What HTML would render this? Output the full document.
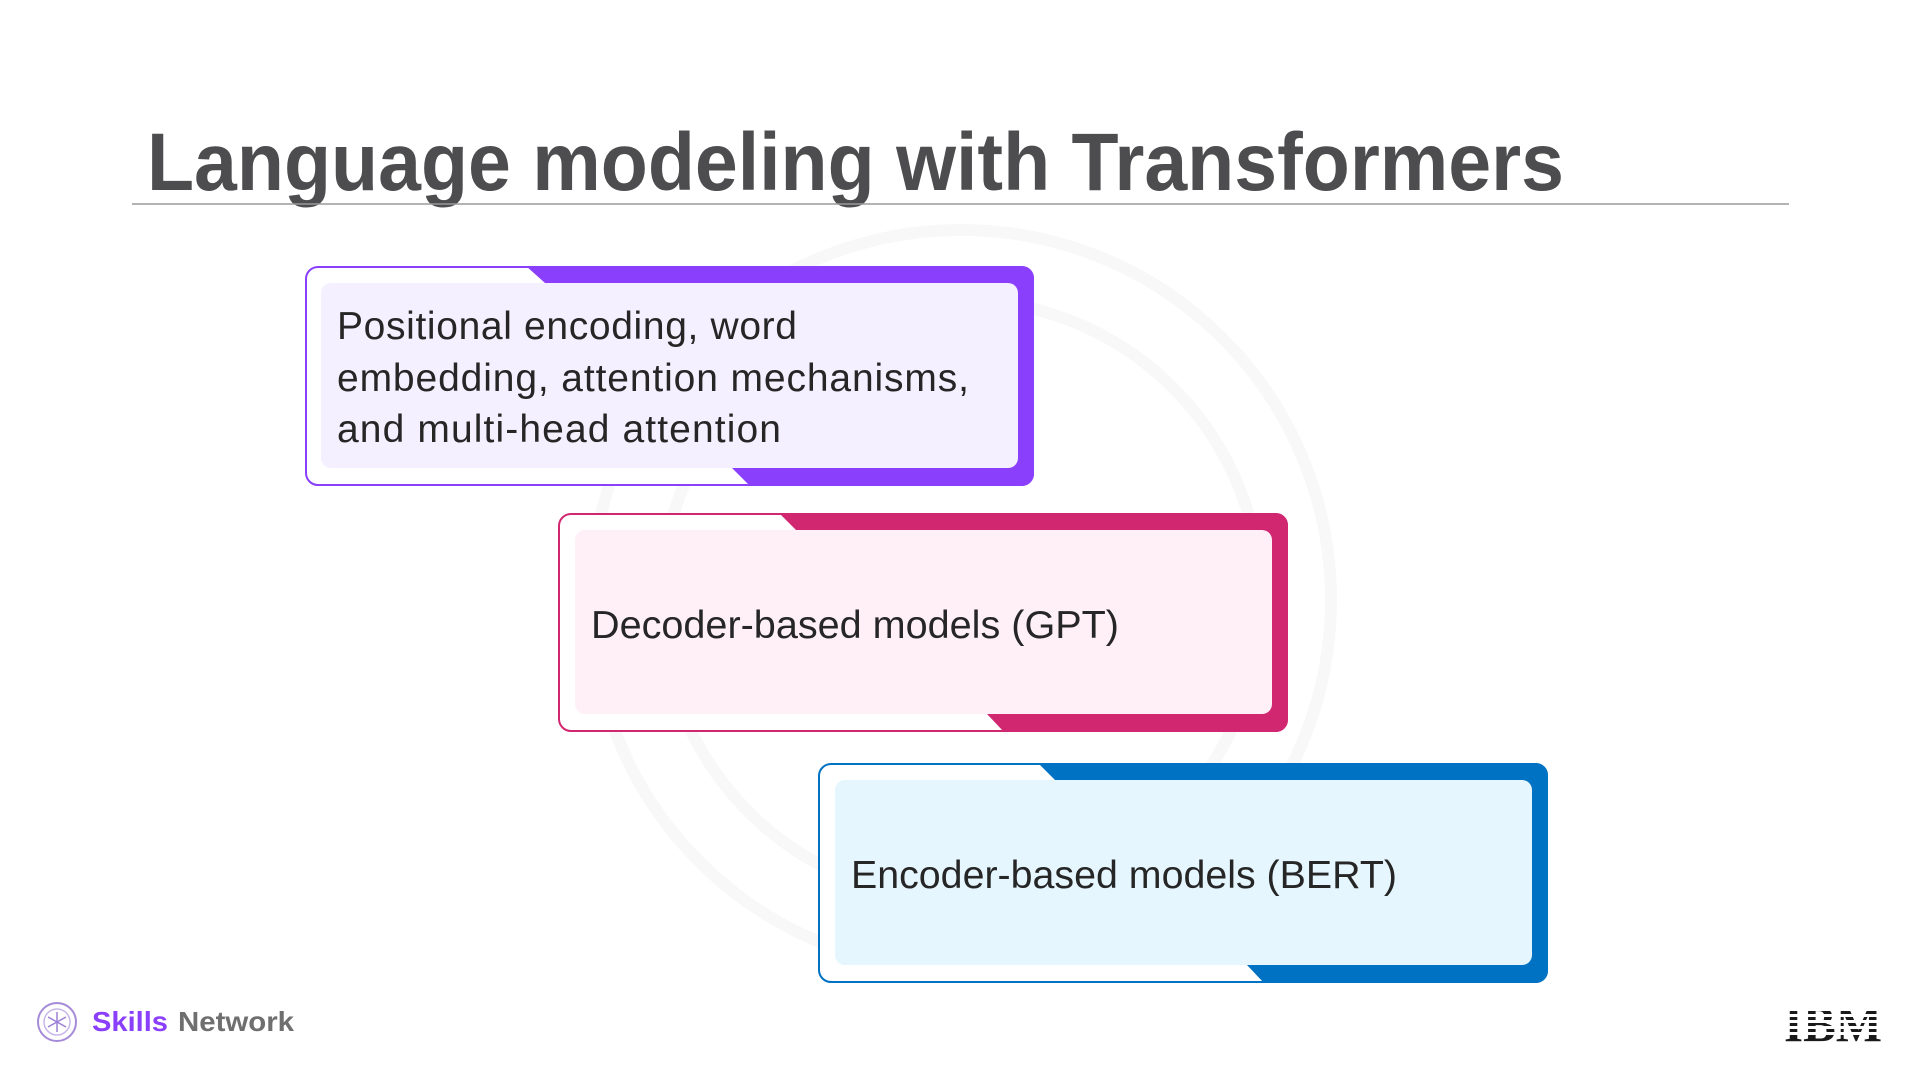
<!DOCTYPE html>
<html><head><meta charset="utf-8"><style>
html,body{margin:0;padding:0;background:#fff;}
body{width:1920px;height:1080px;overflow:hidden;position:relative;font-family:"Liberation Sans",sans-serif;}
svg{position:absolute;left:0;top:0;}
</style></head><body>
<svg width="1920" height="1080" viewBox="0 0 1920 1080" xmlns="http://www.w3.org/2000/svg">
  <g fill="none" stroke="#f8f8f9" stroke-width="12">
    <circle cx="961" cy="600" r="370"/>
    <circle cx="961" cy="600" r="300"/>
  </g>
  <text x="147" y="190" font-family="Liberation Sans, sans-serif" font-weight="bold" font-size="82" fill="#4d4d4f" textLength="1417" lengthAdjust="spacingAndGlyphs">Language modeling with Transformers</text>
  <line x1="132" y1="204" x2="1789" y2="204" stroke="#9a9a9a" stroke-width="1.5"/>

  <defs>
    <clipPath id="c1"><rect x="305" y="266" width="729" height="220" rx="12"/></clipPath>
    <clipPath id="c2"><rect x="558" y="513" width="730" height="219" rx="12"/></clipPath>
    <clipPath id="c3"><rect x="818" y="763" width="730" height="220" rx="12"/></clipPath>
  </defs>

  <rect x="306" y="267" width="727" height="218" rx="12" fill="#fff" stroke="#8a3ffc" stroke-width="2"/>
  <polygon clip-path="url(#c1)" fill="#8a3ffc" points="526,266 1034,266 1034,486 750,486 732,468 545,283"/>
  <rect x="321" y="283" width="697" height="185" rx="10" fill="#f5f0ff"/>
  <g font-family="Liberation Sans, sans-serif" font-size="39" fill="#262626" lengthAdjust="spacingAndGlyphs">
    <text x="337" y="339" textLength="460">Positional encoding, word</text>
    <text x="337" y="391" textLength="632">embedding, attention mechanisms,</text>
    <text x="337" y="442" textLength="444">and multi-head attention</text>
  </g>

  <rect x="559" y="514" width="728" height="217" rx="12" fill="#fff" stroke="#d12771" stroke-width="2"/>
  <polygon clip-path="url(#c2)" fill="#d12771" points="779,513 1288,513 1288,732 1004,732 987,714 796,530"/>
  <rect x="575" y="530" width="697" height="184" rx="10" fill="#fff0f7"/>
  <text x="591" y="638" font-family="Liberation Sans, sans-serif" font-size="39" fill="#262626" textLength="528" lengthAdjust="spacingAndGlyphs">Decoder-based models (GPT)</text>

  <rect x="819" y="764" width="728" height="218" rx="12" fill="#fff" stroke="#0072c3" stroke-width="2"/>
  <polygon clip-path="url(#c3)" fill="#0072c3" points="1038,763 1548,763 1548,983 1264,983 1247,965 1055,780"/>
  <rect x="835" y="780" width="697" height="185" rx="10" fill="#e5f6ff"/>
  <text x="851" y="888" font-family="Liberation Sans, sans-serif" font-size="39" fill="#262626" textLength="546" lengthAdjust="spacingAndGlyphs">Encoder-based models (BERT)</text>

  <circle cx="57" cy="1022" r="19" fill="none" stroke="#a58bd8" stroke-width="2"/>
  <circle cx="57" cy="1022" r="13" fill="none" stroke="#c8b8ea" stroke-width="1.5"/>
  <g stroke="#9b7fd6" stroke-width="1.5"><line x1="57" y1="1012" x2="57" y2="1032"/><line x1="48" y1="1017" x2="66" y2="1027"/><line x1="48" y1="1027" x2="66" y2="1017"/></g>
  <text x="92" y="1031" font-family="Liberation Sans, sans-serif" font-size="28" font-weight="bold" fill="#8a3ffc" textLength="76" lengthAdjust="spacingAndGlyphs">Skills</text>
  <text x="178" y="1031" font-family="Liberation Sans, sans-serif" font-size="28" font-weight="bold" fill="#6f6f6f" textLength="116" lengthAdjust="spacingAndGlyphs">Network</text>

  <text x="1784" y="1041" font-family="Liberation Serif, serif" font-size="50" font-weight="bold" fill="#1a1a1a" textLength="98" lengthAdjust="spacingAndGlyphs">IBM</text>
  <g fill="#fff">
    <rect x="1780" y="1008" width="106" height="3"/>
    <rect x="1780" y="1014" width="106" height="3"/>
    <rect x="1780" y="1020" width="106" height="3"/>
    <rect x="1780" y="1026" width="106" height="3"/>
    <rect x="1780" y="1032" width="106" height="3"/>
  </g>
</svg>
</body></html>
